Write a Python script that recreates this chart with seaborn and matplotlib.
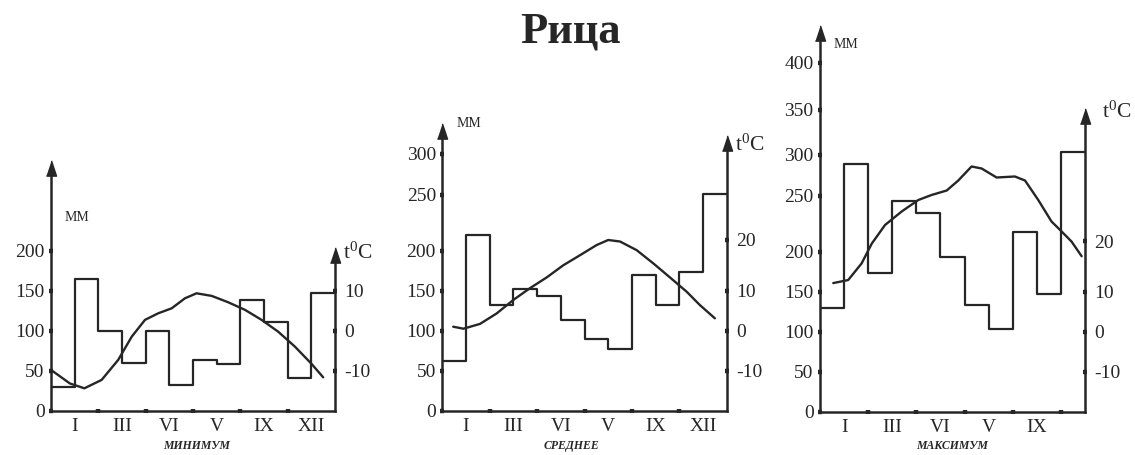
import numpy as np
import matplotlib
matplotlib.use("Agg")
import matplotlib.pyplot as plt
import seaborn as sns

# ---------------- data ----------------
TITLE = "Рица"
panel_titles = ["МИНИМУМ", "СРЕДНЕЕ", "МАКСИМУМ"]
month_labels = ["I", "III", "VI", "V", "IX", "XII"]

# monthly precipitation, mm
precip_min = [30, 165, 100, 60, 100, 32, 63, 58, 138, 111, 41, 147]
precip_mean = [62, 214, 132, 152, 144, 114, 90, 77, 170, 132, 174, 251]
precip_max = [130, 289, 173, 245, 235, 194, 133, 103, 218, 147, 303]

# temperature curves (month position, degC)
temp_min_x = [0.0, 0.8, 1.41, 2.14, 2.84, 3.41, 3.97, 4.53, 5.1, 5.66, 6.15, 6.79,
              7.49, 8.2, 8.9, 9.6, 10.31, 11.01, 11.5]
temp_min_y = [-9.8, -13.2, -14.4, -12.3, -7.3, -1.5, 2.7, 4.35, 5.6, 8.1, 9.35, 8.7,
              7.1, 5.2, 2.7, -0.25, -4.0, -8.3, -11.65]

temp_mean_x = [0.46, 0.89, 1.59, 2.29, 3.0, 3.7, 4.4, 5.1, 5.81, 6.51, 7.0, 7.5,
               8.2, 8.9, 9.61, 10.31, 10.87, 11.5]
temp_mean_y = [1.0, 0.5, 1.7, 4.3, 7.7, 10.5, 12.6, 15.0, 17.0, 19.0, 20.0, 19.7,
               18.0, 15.4, 12.6, 9.75, 6.4, 3.1]

temp_max_x = [0.55, 1.17, 1.73, 2.15, 2.7, 3.39, 4.08, 4.63, 5.26, 5.74, 6.29, 6.71,
              7.33, 8.09, 8.51, 9.06, 9.61, 10.03, 10.44, 10.86]
temp_max_y = [11.7, 12.3, 15.6, 19.5, 23.2, 25.9, 28.2, 29.2, 30.1, 32.1, 34.9, 34.5,
              32.7, 32.9, 32.1, 28.2, 23.9, 21.9, 19.9, 17.0]

mm_ticks = [[0, 50, 100, 150, 200],
            [0, 50, 100, 150, 200, 250, 300],
            [0, 50, 100, 150, 200, 250, 300, 350, 400]]
t_ticks = [[-10, 0, 10], [-10, 0, 10, 20], [-10, 0, 10, 20]]

# ---------------- hand-drawn (piecewise) axis scales ----------------
MM_NODES = [0, 50, 100, 150, 200, 250, 300, 350, 400, 450]
MM_PIX = [0, 40, 80, 120, 160, 216, 257, 302, 349, 396]
T_NODES = [-20, -10, 0, 10, 20, 30, 40, 50]
T_PIX = [0, 40, 80, 120, 170.7, 220.7, 270.7, 320.7]


def piecewise(xs, ys):
    xs = np.asarray(xs, float)
    ys = np.asarray(ys, float)

    def f(v):
        v = np.asarray(v, float)
        out = np.interp(v, xs, ys)
        lo_slope = (ys[1] - ys[0]) / (xs[1] - xs[0])
        hi_slope = (ys[-1] - ys[-2]) / (xs[-1] - xs[-2])
        out = np.where(v < xs[0], ys[0] + (v - xs[0]) * lo_slope, out)
        out = np.where(v > xs[-1], ys[-1] + (v - xs[-1]) * hi_slope, out)
        return out
    return f


mm_fwd, mm_inv = piecewise(MM_NODES, MM_PIX), piecewise(MM_PIX, MM_NODES)
t_fwd, t_inv = piecewise(T_NODES, T_PIX), piecewise(T_PIX, T_NODES)

# ---------------- style ----------------
sns.set_theme(style="white")
INK = "#262626"
plt.rcParams["font.family"] = ["Liberation Serif", "DejaVu Serif"]
plt.rcParams["mathtext.fontset"] = "custom"
plt.rcParams["mathtext.rm"] = "Liberation Serif"
plt.rcParams["mathtext.it"] = "Liberation Serif:italic"
plt.rcParams["text.color"] = INK
plt.rcParams["axes.edgecolor"] = INK
plt.rcParams["xtick.color"] = INK
plt.rcParams["ytick.color"] = INK

FW, FH = 1135, 455
fig = plt.figure(figsize=(FW / 100, FH / 100), dpi=100)
fig.patch.set_facecolor("white")

# layout in pixels: left, baseline, width, top of left arrow, top of right arrow
layout = [
    dict(L=51, B=410.7, W=284, Tp=160, Rtip=247, mm_y=217.7, tc=(343, 253), sub_x=197),
    dict(L=442.3, B=410.7, W=284.4, Tp=123.3, Rtip=135, mm_y=124, tc=(735, 145), sub_x=571),
    dict(L=820, B=411.7, W=265, Tp=25, Rtip=108.3, mm_y=44, tc=(1102, 112), sub_x=952),
]
precips = [precip_min, precip_mean, precip_max]
temps = [(temp_min_x, temp_min_y), (temp_mean_x, temp_mean_y), (temp_max_x, temp_max_y)]

arrow = [(-0.33, -0.5), (0.33, -0.5), (0.0, 0.5)]
ARROW_MS = 11
arrow_half_px = ARROW_MS * 100 / 72 / 2

for i, lay in enumerate(layout):
    L, B, W, Tp = lay["L"], lay["B"], lay["W"], lay["Tp"]
    H = B - Tp
    ax = fig.add_axes([L / FW, (FH - B) / FH, W / FW, H / FH])
    ax.set_facecolor("none")
    ax.set_yscale("function", functions=(mm_fwd, mm_inv))
    ax2 = ax.twinx()
    ax2.set_yscale("function", functions=(t_fwd, t_inv))

    vals = precips[i]
    n = len(vals)
    months = np.arange(n + 1)
    sns.lineplot(x=months, y=list(vals) + [vals[-1]], ax=ax, color=INK, lw=1.6,
                 drawstyle="steps-post", estimator=None, sort=False)
    tx, ty = temps[i]
    sns.lineplot(x=tx, y=ty, ax=ax2, color=INK, lw=1.7, estimator=None, sort=False,
                 solid_joinstyle="round", solid_capstyle="round")

    ax.set_xlim(0, n)
    ax.set_ylim(0, float(mm_inv(H)))
    ax2.set_ylim(float(t_inv(0)), float(t_inv(H)))
    ax.set_xlabel("")
    ax.set_ylabel("")
    ax2.set_ylabel("")

    # spines
    ax.spines["top"].set_visible(False)
    ax2.spines["top"].set_visible(False)
    ax2.spines["left"].set_visible(False)
    ax2.spines["bottom"].set_visible(False)
    ax.spines["right"].set_visible(False)
    for sp in [ax.spines["left"], ax.spines["bottom"], ax2.spines["right"]]:
        sp.set_linewidth(1.8)
        sp.set_color(INK)
    top_left = float(mm_inv(H - arrow_half_px))
    ax.spines["left"].set_bounds(0, top_left)
    rt_h = B - lay["Rtip"]
    top_right = float(t_inv(rt_h - arrow_half_px))
    ax2.spines["right"].set_bounds(float(t_inv(0)), top_right)

    # arrow heads
    ax.plot([0], [top_left], marker=arrow, ms=ARROW_MS, color=INK, clip_on=False,
            linestyle="none")
    ax2.plot([n], [top_right], marker=arrow, ms=ARROW_MS, color=INK, clip_on=False,
             linestyle="none")

    # ticks
    ax.set_yticks(mm_ticks[i])
    ax.set_yticklabels([str(v) for v in mm_ticks[i]])
    ax2.set_yticks(t_ticks[i])
    ax2.set_yticklabels([str(v) for v in t_ticks[i]])
    ax.tick_params(axis="y", left=True, length=3.2, width=3.2, direction="inout",
                   labelsize=14, pad=3, colors=INK)
    ax2.tick_params(axis="y", right=True, length=3.2, width=3.2, direction="inout",
                    labelsize=14, pad=5, colors=INK)
    ax.yaxis.set_minor_locator(matplotlib.ticker.NullLocator())
    ax2.yaxis.set_minor_locator(matplotlib.ticker.NullLocator())

    ax.set_xticks(np.arange(2, n, 2))
    ax.set_xticklabels([])
    minor_pos = np.arange(1, n, 2)
    ax.set_xticks(minor_pos, minor=True)
    ax.set_xticklabels(month_labels[:len(minor_pos)], minor=True)
    ax.tick_params(axis="x", which="major", bottom=True, length=3.2, width=3.2,
                   direction="inout", colors=INK)
    ax.tick_params(axis="x", which="minor", bottom=True, length=0, pad=5,
                   labelsize=14, colors=INK)
    ax.grid(False)
    ax2.grid(False)

    # unit labels
    fig.text((L + 14) / FW, 1 - lay["mm_y"] / FH, "ММ", fontsize=10,
             ha="left", va="center", color=INK)
    tcx, tcy = lay["tc"]
    fig.text(tcx / FW, 1 - tcy / FH, r"t$^{\mathrm{0}}$C", fontsize=15.5,
             ha="left", va="center", color=INK)
    fig.text(lay["sub_x"] / FW, 1 - 446 / FH, panel_titles[i], fontsize=8.5,
             fontweight="bold", fontstyle="italic", ha="center", va="center", color=INK)

fig.text(570 / FW, 1 - 42 / FH, TITLE, fontsize=32, fontweight="bold",
         ha="center", va="baseline", color=INK)

fig.savefig("out.png", dpi=100, facecolor="white")
